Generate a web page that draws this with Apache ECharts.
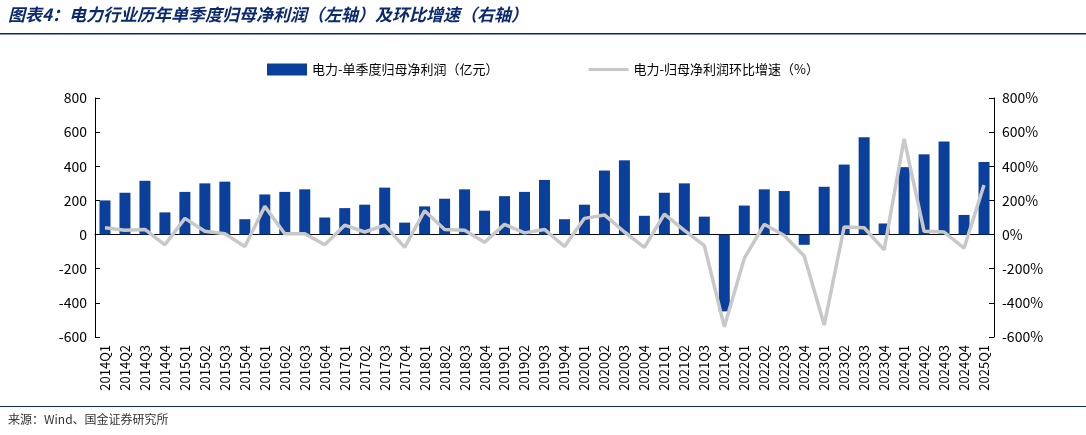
<!DOCTYPE html>
<html><head><meta charset="utf-8">
<script src="https://cdn.jsdelivr.net/npm/echarts@6/dist/echarts.min.js"></script>
<style>body{margin:0;background:#fff}#c{width:1086px;height:435px}</style>
</head><body><div id="c"></div>
<script>
var quarters = [];
for (var y = 2014; y <= 2025; y++) for (var q = 1; q <= 4; q++) if (!(y === 2025 && q > 1)) quarters.push(y + 'Q' + q);

var profit = [200, 245, 315, 130, 250, 300, 310, 90, 235, 250, 265, 100, 155, 175, 275, 70,
  165, 210, 265, 140, 225, 250, 320, 90, 175, 375, 435, 110, 245, 300, 105, -450,
  170, 265, 255, -60, 280, 410, 570, 65, 395, 470, 545, 115, 425];
var growth = [40, 25, 30, -60, 95, 20, 5, -70, 165, 5, 5, -60, 55, 15, 55, -75,
  140, 30, 25, -45, 60, 10, 30, -70, 95, 115, 15, -75, 120, 25, -65, -540,
  -140, 60, -5, -125, -530, 45, 40, -90, 560, 20, 15, -80, 290];

var chart = echarts.init(document.getElementById('c'));
var font = '"Noto Sans CJK SC", sans-serif';
chart.setOption({
  animation: false,
  textStyle: { fontFamily: font },
  graphic: [
    { type: 'text', left: 8, top: 6, style: { text: '图表4：电力行业历年单季度归母净利润（左轴）及环比增速（右轴）', fontSize: 17, fontWeight: 'bold', fontStyle: 'italic', fill: '#0b2a6e', fontFamily: font } },
    { type: 'rect', shape: { x: 0, y: 33, width: 1086, height: 1.5 }, style: { fill: '#0b2a6e' } },
    { type: 'rect', shape: { x: 0, y: 406, width: 1086, height: 1 }, style: { fill: '#0b2a6e' } },
    { type: 'text', left: 8, top: 413, style: { text: '来源：Wind、国金证券研究所', fontSize: 12, fill: '#333', fontFamily: font } }
  ],
  legend: {
    top: 58, left: 'center', itemGap: 90, textStyle: { fontSize: 13, color: '#000' },
    data: [{ name: '电力-单季度归母净利润（亿元）', icon: 'rect' },
      { name: '电力-归母净利润环比增速（%）', icon: 'path://M0,0H40V3H0Z' }],
    itemWidth: 40, itemHeight: 12
  },
  grid: { left: 95, right: 92, top: 98, bottom: 98 },
  xAxis: {
    type: 'category', data: quarters,
    axisLine: { onZero: true, onZeroAxisIndex: 0, lineStyle: { color: '#000' } },
    axisTick: { show: false },
    axisLabel: { rotate: 90, interval: 0, color: '#000', fontSize: 13 }
  },
  yAxis: [
    { type: 'value', min: -600, max: 800, interval: 200, splitLine: { show: false },
      axisLine: { show: true, lineStyle: { color: '#000' } }, axisTick: { show: true, inside: true },
      axisLabel: { color: '#000', fontSize: 14 } },
    { type: 'value', min: -600, max: 800, interval: 200, splitLine: { show: false },
      axisLine: { show: true, lineStyle: { color: '#000' } }, axisTick: { show: true, inside: true },
      axisLabel: { color: '#000', fontSize: 14, formatter: '{value}%' } }
  ],
  series: [
    { name: '电力-单季度归母净利润（亿元）', type: 'bar', data: profit, barWidth: '55%', itemStyle: { color: '#0b3f9c' } },
    { name: '电力-归母净利润环比增速（%）', type: 'line', yAxisIndex: 1, data: growth, symbol: 'none',
      lineStyle: { color: '#c8c8c8', width: 3.5 }, itemStyle: { color: '#c8c8c8' } }
  ]
});
</script></body></html>
